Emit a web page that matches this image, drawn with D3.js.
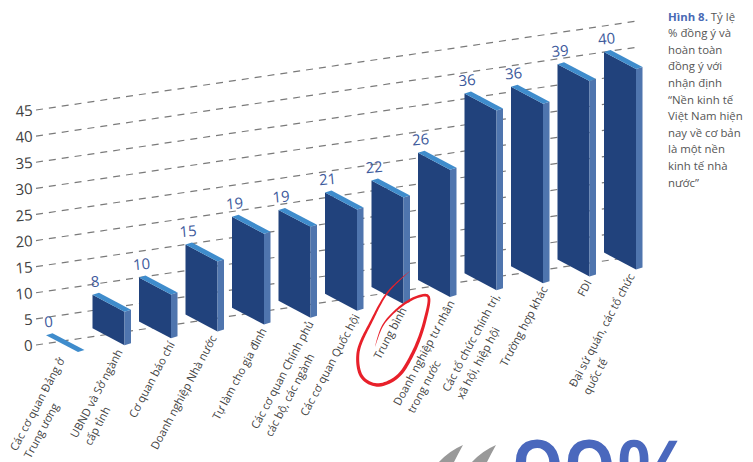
<!DOCTYPE html>
<html><head><meta charset="utf-8">
<script src="https://cdn.jsdelivr.net/npm/d3@7"></script>
<style>html,body{margin:0;padding:0;background:#fff}svg{display:block}</style>
</head><body><svg id="c" width="753" height="462"></svg>
<script>
const categories = [
 ["Các cơ quan Đảng ở","Trung ương"],["UBND và Sở ngành","cấp tỉnh"],["Cơ quan báo chí"],["Doanh nghiệp Nhà nước"],
 ["Tự làm cho gia đình"],["Các cơ quan Chính phủ","các bộ, các ngành"],["Các cơ quan Quốc hội"],["Trung bình"],
 ["Doanh nghiệp tư nhân","trong nước"],["Các tổ chức chính trị,","xã hội, hiệp hội"],["Trường hợp khác"],["FDI"],
 ["Đại sứ quán, các tổ chức","quốc tế"]];
const values = [0,8,10,15,19,19,21,22,26,36,36,39,40];
const ticks = [0,5,10,15,20,25,30,35,40,45];
const caption = ["% đồng ý và","hoàn toàn","đồng ý với","nhận định","“Nền kinh tế","Việt Nam hiện","nay về cơ bản","là một nền","kinh tế nhà","nước”"];
const labelNudge = [-15,-3.5,2,-2.5,1,1.5,1,1.5,3,1.5,3,.5,-3];

const svg = d3.select("#c");
const font = "'Open Sans',sans-serif";
const x = d3.scalePoint().domain(d3.range(values.length)).range([46,604]);
const yV = d3.scaleLinear().domain([0,45]).range([345,110]);
const slope = 0.148, x0 = 36, floorV = 1.6, w = 32, shear = 0.53, dw = 6.5, dh = 2;
const gy = (v,px) => yV(v) - slope*(px-x0);

// gridlines
svg.append("g").selectAll("line").data(ticks).join("line")
 .attr("x1",x0).attr("x2",640).attr("y1",d=>gy(d,x0)).attr("y2",d=>gy(d,640))
 .attr("stroke","#7a7a7a").attr("stroke-width",1.2).attr("stroke-dasharray","7 6");
// y tick labels
svg.append("g").selectAll("text").data(ticks).join("text")
 .attr("transform",d=>`translate(33,${yV(d)+5.5}) rotate(-5)`).attr("text-anchor","end")
 .attr("font-family",font).attr("font-size",15).attr("fill","#3f3f3f").text(d=>d);

// bars
const poly = pts => pts.map(p=>p.join(",")).join(" ");
const bars = svg.append("g").selectAll("g").data(values).join("g");
bars.each(function(v,i){
  const g = d3.select(this), l = x(i), r = l+w, t = gy(Math.max(v,floorV),l), b = gy(floorV,l), s = w*shear;
  if(v>0){
    g.append("polygon").attr("points",poly([[l,t],[r,t+s],[r,b+s],[l,b]])).attr("fill","#21427c");
    g.append("polygon").attr("points",poly([[r,t+s],[r+dw,t+s-dh],[r+dw,b+s-dh],[r,b+s]])).attr("fill","#4f75ae");
  }
  g.append("polygon").attr("points",poly([[l,t],[l+dw,t-dh],[r+dw,t+s-dh],[r,t+s]])).attr("fill","#3f8ccc");
  g.append("text").attr("transform",`translate(${l+3},${t-8}) rotate(-5)`).attr("text-anchor","middle")
   .attr("font-family",font).attr("font-size",15).attr("fill","#3d5a9c").text(v);
});

// category labels
const lab = svg.append("g").selectAll("g").data(categories).join("g")
 .attr("transform",(d,i)=>{const e=x(i)+34+labelNudge[i];return `translate(${e},${gy(-3.8,e)}) rotate(-62)`;})
 .attr("font-family",font).attr("font-size",11.2).attr("fill","#444");
lab.each(function(lines){
  const g = d3.select(this);
  const t1 = g.append("text").attr("text-anchor","end").text(lines[0]);
  if(lines[1]) g.append("text").attr("x",-t1.node().getComputedTextLength()).attr("y",16).text(lines[1]);
});

// caption
const cap = svg.append("g").attr("font-family",font).attr("font-size",11.4).attr("fill","#555");
const c0 = cap.append("text").attr("x",668).attr("y",20.5);
c0.append("tspan").attr("font-weight",700).attr("fill","#4a6ab5").text("Hình 8.");
c0.append("tspan").text(" Tỷ lệ");
cap.selectAll(null).data(caption).join("text").attr("x",668).attr("y",(d,i)=>20.5+(i+1)*16.6).text(d=>d);

// red hand-drawn ring: sampled centre line, filled with a tapering width
const ring = [[410,271],[388,292],[372,320],[358,353],[362,377],[377,385],[397,377],[413,353],[425,320],[428,296],[417,297],[400,307],[383,325],[375,347]];
const guide = svg.append("path").attr("d",d3.line().curve(d3.curveCatmullRom)(ring)).attr("fill","none").node();
const L = guide.getTotalLength(), n = 160, left = [], right = [];
for(let k=0;k<=n;k++){
  const u=k/n, a=guide.getPointAtLength(u*L), b=guide.getPointAtLength(Math.min(L,u*L+1)), c=guide.getPointAtLength(Math.max(0,u*L-1));
  const dx=b.x-c.x, dy=b.y-c.y, m=Math.hypot(dx,dy)||1, hw=1.7*Math.pow(Math.sin(Math.PI*u),.6);
  left.push([a.x-dy/m*hw,a.y+dx/m*hw]); right.unshift([a.x+dy/m*hw,a.y-dx/m*hw]);
}
svg.append("polygon").attr("points",poly(left.concat(right))).attr("fill","#e8202a");
d3.select(guide).remove();

// page decoration cut off by the bottom edge
svg.append("text").attr("x",512).attr("y",505).attr("font-family",font).attr("font-weight",600)
 .attr("font-size",91).attr("fill","#4a68bd").text("99%");
const swoosh = d3.path();
[0,33].forEach(o=>{
  swoosh.moveTo(439+o,462); swoosh.quadraticCurveTo(449+o,451,463+o,445);
  swoosh.quadraticCurveTo(458+o,454,454+o,462); swoosh.closePath();
});
svg.append("path").attr("d",swoosh.toString()).attr("fill","#999");
</script></body></html>
